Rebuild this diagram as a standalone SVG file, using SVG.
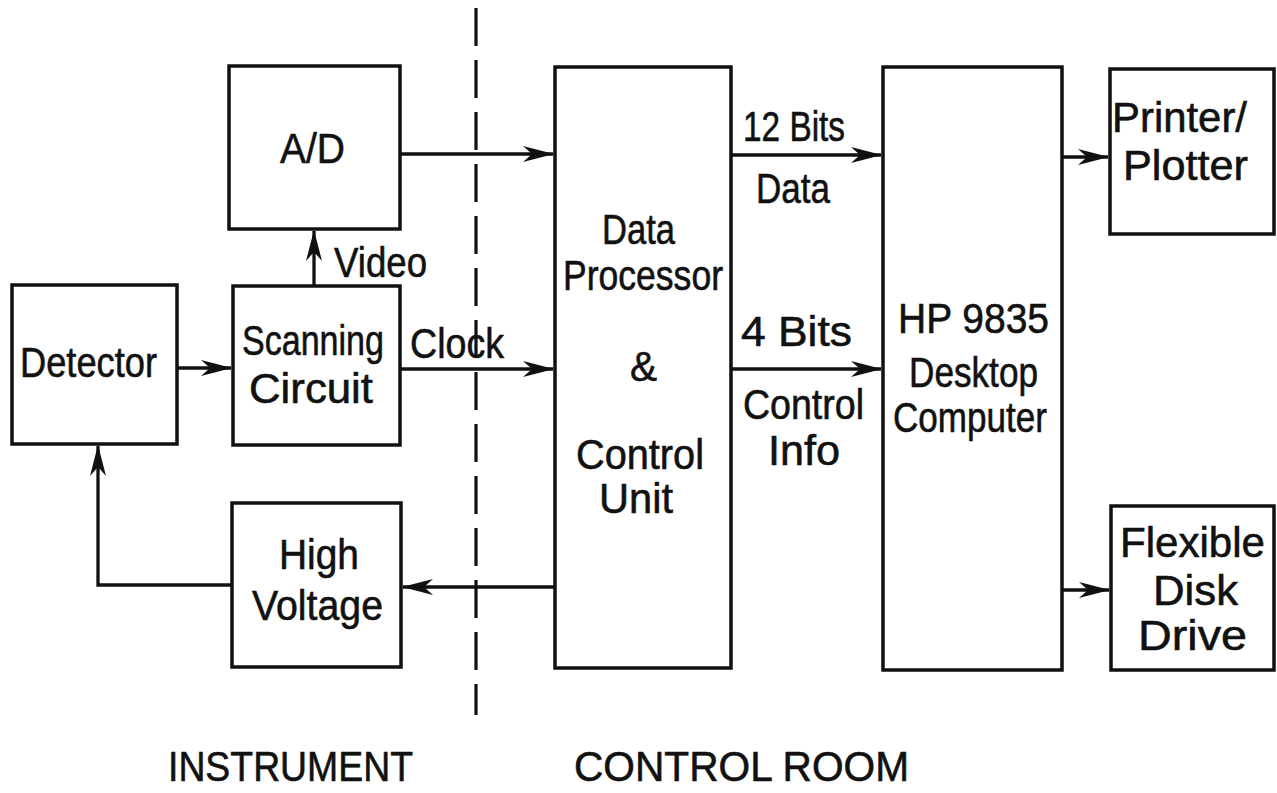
<svg xmlns="http://www.w3.org/2000/svg" width="1277" height="793" viewBox="0 0 1277 793">
<style>
.box{fill:none;stroke:#111;stroke-width:3.5}
.wire{fill:none;stroke:#111;stroke-width:3.3}
.t{font-family:"Liberation Sans",Arial,sans-serif;font-size:43px;fill:#111;stroke:#111;stroke-width:0.6}
.div{fill:none;stroke:#111;stroke-width:3.2;stroke-dasharray:38 14}
</style>
<defs>
<marker id="ah" markerUnits="userSpaceOnUse" markerWidth="34" markerHeight="20" viewBox="-32 -10 34 20" refX="0" refY="0" orient="auto">
<path d="M1,0 L-30,-8 L-21,0 L-30,8 Z" fill="#111"/>
</marker>
</defs>
<rect width="1277" height="793" fill="#fff"/>
<line class="div" x1="476" y1="8" x2="476" y2="715"/>
<g id="connectors">
<path class="wire" d="M400,154 L553,154" marker-end="url(#ah)"/>
<path class="wire" d="M314,286 L314,231" marker-end="url(#ah)"/>
<path class="wire" d="M177,368 L231,368" marker-end="url(#ah)"/>
<path class="wire" d="M400,369 L553,369" marker-end="url(#ah)"/>
<path class="wire" d="M555,587 L403,587" marker-end="url(#ah)"/>
<path class="wire" d="M232,585 L98,585 L98,446" marker-end="url(#ah)"/>
<path class="wire" d="M731,155 L881,155" marker-end="url(#ah)"/>
<path class="wire" d="M731,369 L881,369" marker-end="url(#ah)"/>
<path class="wire" d="M1062,157 L1108,157" marker-end="url(#ah)"/>
<path class="wire" d="M1062,590 L1109,590" marker-end="url(#ah)"/>
<text class="t" x="410" y="358" textLength="94" lengthAdjust="spacingAndGlyphs">Clock</text>
<text class="t" x="334" y="277" textLength="93" lengthAdjust="spacingAndGlyphs">Video</text>
<text class="t" x="743" y="141" textLength="102" lengthAdjust="spacingAndGlyphs">12 Bits</text>
<text class="t" x="756" y="203" textLength="74" lengthAdjust="spacingAndGlyphs">Data</text>
<text class="t" x="741" y="346" textLength="111" lengthAdjust="spacingAndGlyphs">4 Bits</text>
<text class="t" x="743" y="419" textLength="121" lengthAdjust="spacingAndGlyphs">Control</text>
<text class="t" x="768" y="465" textLength="72" lengthAdjust="spacingAndGlyphs">Info</text>
</g>
<g id="ad">
<rect class="box" x="229" y="66" width="171" height="163"/>
<text class="t" x="280" y="163" textLength="65" lengthAdjust="spacingAndGlyphs">A/D</text>
</g>
<g id="detector">
<rect class="box" x="12" y="285" width="165" height="159"/>
<text class="t" x="20" y="377" textLength="137" lengthAdjust="spacingAndGlyphs">Detector</text>
</g>
<g id="scanning">
<rect class="box" x="233" y="286" width="167" height="159"/>
<text class="t" x="242" y="355" textLength="142" lengthAdjust="spacingAndGlyphs">Scanning</text>
<text class="t" x="249" y="403" textLength="124" lengthAdjust="spacingAndGlyphs">Circuit</text>
</g>
<g id="highvoltage">
<rect class="box" x="232" y="503" width="169" height="164"/>
<text class="t" x="279" y="569" textLength="80" lengthAdjust="spacingAndGlyphs">High</text>
<text class="t" x="252" y="620" textLength="131" lengthAdjust="spacingAndGlyphs">Voltage</text>
</g>
<g id="dataprocessor">
<rect class="box" x="555" y="67" width="176" height="601"/>
<text class="t" x="602" y="244" textLength="73" lengthAdjust="spacingAndGlyphs">Data</text>
<text class="t" x="563" y="290" textLength="160" lengthAdjust="spacingAndGlyphs">Processor</text>
<text class="t" x="630" y="381" textLength="27" lengthAdjust="spacingAndGlyphs">&amp;</text>
<text class="t" x="576" y="469" textLength="128" lengthAdjust="spacingAndGlyphs">Control</text>
<text class="t" x="599" y="513" textLength="74" lengthAdjust="spacingAndGlyphs">Unit</text>
</g>
<g id="hp9835">
<rect class="box" x="883" y="67" width="179" height="603"/>
<text class="t" x="898" y="333" textLength="151" lengthAdjust="spacingAndGlyphs">HP 9835</text>
<text class="t" x="909" y="387" textLength="129" lengthAdjust="spacingAndGlyphs">Desktop</text>
<text class="t" x="893" y="432" textLength="154" lengthAdjust="spacingAndGlyphs">Computer</text>
</g>
<g id="printer">
<rect class="box" x="1110" y="69" width="164" height="165"/>
<text class="t" x="1112" y="132" textLength="135" lengthAdjust="spacingAndGlyphs">Printer/</text>
<text class="t" x="1123" y="180" textLength="125" lengthAdjust="spacingAndGlyphs">Plotter</text>
</g>
<g id="disk">
<rect class="box" x="1111" y="506" width="163" height="164"/>
<text class="t" x="1120" y="557" textLength="145" lengthAdjust="spacingAndGlyphs">Flexible</text>
<text class="t" x="1153" y="605" textLength="85" lengthAdjust="spacingAndGlyphs">Disk</text>
<text class="t" x="1138" y="650" textLength="109" lengthAdjust="spacingAndGlyphs">Drive</text>
</g>
<g id="zones">
<text class="t" x="168" y="781" textLength="245" lengthAdjust="spacingAndGlyphs">INSTRUMENT</text>
<text class="t" x="574" y="781" textLength="335" lengthAdjust="spacingAndGlyphs">CONTROL ROOM</text>
</g>
</svg>
